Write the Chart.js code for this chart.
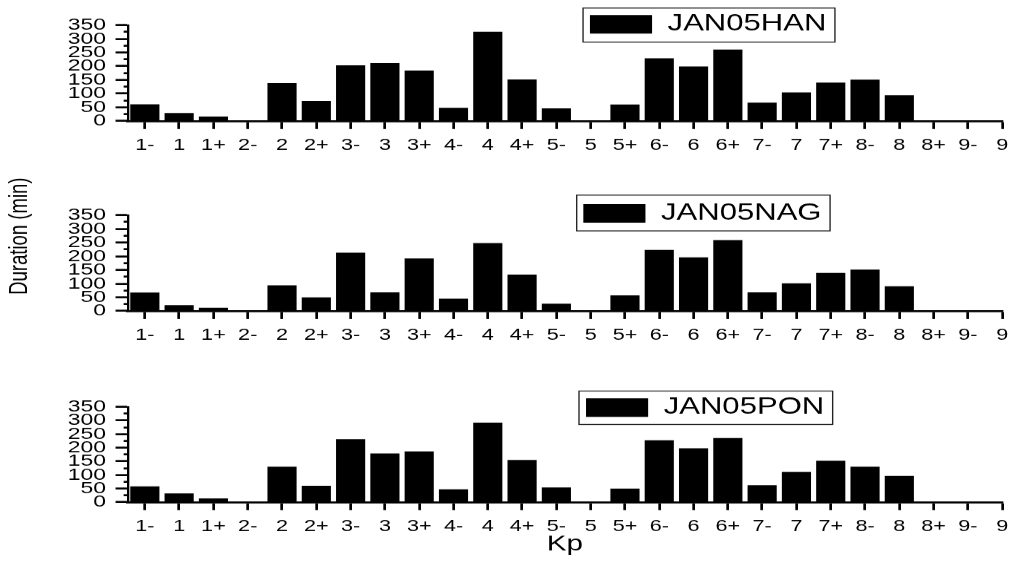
<!DOCTYPE html>
<html>
<head>
<meta charset="utf-8">
<script src="https://cdn.jsdelivr.net/npm/chart.js@4.4.1/dist/chart.umd.min.js"></script>
<style>
  html, body { margin: 0; padding: 0; background: #fff; }
  body { width: 1017px; height: 569px; position: relative; overflow: hidden; }
  .panel { position: absolute; left: 0; width: 753px; transform: scaleX(1.350597); transform-origin: 0 0; }
  .panel canvas { display: block; }
</style>
</head>
<body>
<div class="panel" style="top:0px;height:190px"><canvas id="c1" width="753" height="190"></canvas></div>
<div class="panel" style="top:127px;height:218px"><canvas id="c2" width="753" height="218"></canvas></div>
<div class="panel" style="top:381px;height:188px"><canvas id="c3" width="753" height="188"></canvas></div>
<script>
// ---- data ----
const KP_LABELS = ['1-','1','1+','2-','2','2+','3-','3','3+','4-','4','4+','5-','5','5+','6-','6','6+','7-','7','7+','8-','8','8+','9-','9'];
const HAN = [61, 29, 16, 0, 138, 73, 203, 211, 184, 48, 326, 152, 46, 0, 60, 229, 199, 261, 67, 104, 140, 151, 94, 0, 0, 0];
const NAG = [67, 21, 12, 0, 94, 50, 213, 68, 192, 45, 248, 133, 27, 0, 57, 223, 196, 259, 68, 101, 139, 151, 90, 0, 0, 0];
const PON = [58, 32, 14, 0, 130, 60, 231, 179, 186, 47, 292, 155, 54, 0, 50, 227, 198, 235, 62, 111, 152, 130, 96, 0, 0, 0];
const SERIES_NAMES = ['JAN05HAN', 'JAN05NAG', 'JAN05PON'];
const Y_MIN = 0, Y_MAX = 350, Y_MAJOR_STEP = 50, Y_MINOR_STEP = 25;
const Y_TITLE = 'Duration (min)';
const X_TITLE = 'Kp';

// ---- styling / layout ----
const SX = 1017 / 753;
const FONT = '"Liberation Sans", Arial, Helvetica, sans-serif';
const LEG_FONT = 23, LEG_BOX_H = 18.5;

const legendPlacer = {
  id: 'legendPlacer',
  afterLayout(chart, args, opts) {
    const L = chart.legend;
    if (!L) return;
    const p = L.options.labels.padding;
    const w = L.width;
    L.left = opts.x - p;
    L.right = L.left + w;
    L.top = opts.y - p - Math.max((LEG_FONT - LEG_BOX_H) / 2, 0);
    L.bottom = L.top + 2 * p + 60;
  },
  afterDraw(chart, args, opts) {
    const ctx = chart.ctx;
    const f = opts.frame;
    ctx.save();
    ctx.strokeStyle = '#222';
    ctx.lineWidth = 1;
    ctx.strokeRect(f[0], f[1], f[2], f[3]);
    ctx.restore();
  }
};

function makePanel(canvasId, name, values, cfg) {
  const points = values.map((v, i) => ({ x: i, y: v }));
  return new Chart(document.getElementById(canvasId), {
    type: 'bar',
    data: {
      datasets: [{
        label: name,
        data: points,
        backgroundColor: '#000',
        borderColor: '#000',
        borderWidth: 0,
        barPercentage: 0.85,
        categoryPercentage: 1.0
      }]
    },
    plugins: [legendPlacer],
    options: {
      responsive: false,
      devicePixelRatio: SX,
      animation: false,
      layout: { padding: { top: cfg.padTop, bottom: cfg.padBottom, left: 0, right: 6.4 } },
      plugins: {
        tooltip: { enabled: false },
        legend: {
          display: true, position: 'top', align: 'start', maxHeight: cfg.legendH,
          labels: { color: '#000', font: { family: FONT, size: LEG_FONT }, boxWidth: 46, boxHeight: LEG_BOX_H, padding: cfg.legendPad }
        },
        title: cfg.yTitle ? {
          display: true, position: 'left', text: Y_TITLE, color: '#000',
          font: { family: FONT, size: 18.5, weight: 'normal' }, padding: { top: 3.7, bottom: 0 }
        } : { display: false },
        legendPlacer: { x: cfg.swatchX, y: cfg.swatchY, frame: cfg.frame }
      },
      scales: {
        x: {
          type: 'linear', position: 'bottom', min: -0.5, max: KP_LABELS.length - 1, offset: false,
          grid: { display: true, drawOnChartArea: false, drawTicks: true, tickLength: 8, tickWidth: 2, color: '#000', tickColor: '#000', offset: false },
          border: { display: true, color: '#000', width: 2 },
          ticks: {
            stepSize: 1, includeBounds: false, autoSkip: false, maxRotation: 0, minRotation: 0,
            padding: 6.5, color: '#000', font: { family: FONT, size: 16 },
            callback: (v) => (KP_LABELS[v] !== undefined ? KP_LABELS[v] : '')
          },
          title: cfg.xTitle ? {
            display: true, text: X_TITLE, color: '#000', font: { family: FONT, size: 22 }, padding: { top: 0, bottom: cfg.xTitlePad }
          } : { display: false },
          afterFit: (s) => { s.height = cfg.xH; }
        },
        y: {
          type: 'linear', position: 'left', weight: 10, min: Y_MIN, max: Y_MAX,
          grid: { display: true, drawOnChartArea: false, tickLength: 6, tickWidth: 2, color: '#000', tickColor: '#000' },
          border: { display: false },
          ticks: { stepSize: Y_MAJOR_STEP, autoSkip: false, padding: 7, color: '#000', font: { family: FONT, size: 17 } },
          afterFit: (s) => { s.width = cfg.yW; }
        },
        yMinor: {
          type: 'linear', position: 'left', weight: 0, min: Y_MIN, max: Y_MAX,
          grid: { display: true, drawOnChartArea: false, tickLength: 3, tickWidth: 2, color: '#000', tickColor: '#000' },
          border: { display: true, color: '#000', width: 1.7 },
          ticks: { stepSize: Y_MINOR_STEP, display: false }
        }
      }
    }
  });
}

makePanel('c1', SERIES_NAMES[0], HAN, {
  padTop: 1, legendH: 24, legendPad: 10, padBottom: 39.3, xH: 30, yW: 91.55,
  swatchX: 436.8, swatchY: 15, frame: [431.7, 8, 186.5, 34]
});
makePanel('c2', SERIES_NAMES[1], NAG, {
  padTop: 4.3, legendH: 83.7, legendPad: 60, padBottom: 4.3, xH: 30, yW: 91.55 - (18.5 * 1.2 + 3.7), yTitle: true,
  swatchX: 431.9, swatchY: 77, frame: [427.0, 68, 187.6, 35.7]
});
makePanel('c3', SERIES_NAMES[2], PON, {
  padTop: 1, legendH: 24.7, legendPad: 10, padBottom: 7.3, xH: 60, yW: 91.55, xTitle: true, xTitlePad: 5,
  swatchX: 433.9, swatchY: 17.3, frame: [428.7, 10, 187.8, 33.3]
});
</script>
</body>
</html>
